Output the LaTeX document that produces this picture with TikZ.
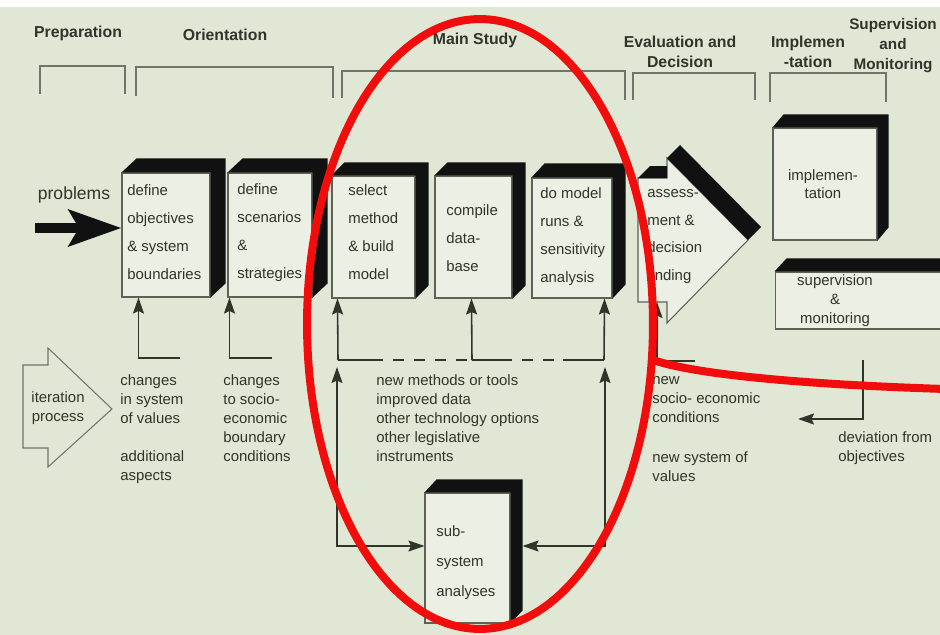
\documentclass[tikz,border=0pt]{standalone}
\usepackage{fontspec}
\setmainfont{Liberation Sans}
\usetikzlibrary{arrows.meta,calc}
\definecolor{paper}{HTML}{E1E7D5}
\definecolor{face}{HTML}{ECEFE4}
\definecolor{ink}{HTML}{2F3529}
\definecolor{edge}{HTML}{5C6255}
\definecolor{bracket}{HTML}{70756A}
\definecolor{band}{HTML}{111111}
\definecolor{redmark}{HTML}{F20D0D}
\newcommand\cubeband[3]{\fill[band] (#1.north west) -- ++(#2,-#3) -- ($(#1.north east)+(#2,-#3)$) -- ($(#1.south east)+(#2,-#3)$) -- (#1.south east) -- (#1.north east) -- cycle;}
\begin{document}
\begin{tikzpicture}[x=0.02cm,y=-0.02cm,
  cubeface/.style={draw=edge, line width=0.6pt, fill=face, inner sep=0pt, rectangle},
  boxtext/.style={align=left, inner sep=0pt, text=ink, font=\fontsize{8.5}{15.9}\selectfont, anchor=west},
  subtext/.style={align=left, inner sep=0pt, text=ink, font=\fontsize{8.5}{17}\selectfont, anchor=west},
  ctext/.style={align=center, inner sep=0pt, text=ink, font=\fontsize{8.5}{10.5}\selectfont},
  note/.style={align=left, inner sep=0pt, text=ink, font=\fontsize{8.5}{10.8}\selectfont, anchor=west},
  head/.style={align=center, inner sep=0pt, text=ink, font=\bfseries\fontsize{9}{11.4}\selectfont},
  brk/.style={draw=bracket, line width=0.6pt},
  outl/.style={draw=bracket, line width=0.6pt},
  ln/.style={draw=ink, line width=0.9pt},
  arr/.style={ln, -{Stealth[length=0.32cm,width=0.22cm,inset=0.05cm]}},
  arrtwo/.style={ln, {Stealth[length=0.32cm,width=0.22cm,inset=0.05cm]}-{Stealth[length=0.32cm,width=0.22cm,inset=0.05cm]}},
  dsh/.style={ln, dash pattern=on 0.22cm off 0.2cm, dash phase=0.22cm},
  redline/.style={draw=redmark, line width=0.16cm}]
\useasboundingbox (0,0) rectangle (940,635);
\clip (0,0) rectangle (940,635);
\fill[paper] (0,0) rectangle (940,635);
\fill[white] (0,0) rectangle (940,7);

% phase headers
\node[head] (hprep) at (78,33) {Preparation};
\node[head] (horient) at (225,35) {Orientation};
\node[head] (hmain) at (475,40) {Main Study};
\node[head] (heval) at (680,52) {Evaluation and\\Decision};
\node[head] (himpl) at (808,52) {Implemen\\-tation};
\node[head, font=\bfseries\fontsize{8.7}{11.4}\selectfont] (hsup) at (893,46) {Supervision\\and\\Monitoring};

% brackets
\draw[brk] (40,94) |- (125,66) -- (125,94);
\draw[brk] (136,96) |- (333,67) -- (333,98);
\draw[brk] (342,98) |- (625,71) -- (625,100);
\draw[brk] (633,100) |- (755,73) -- (755,100);
\draw[brk] (770,102) |- (886,73) -- (886,102);

% boxes
\node[cubeface, minimum width=1.76cm, minimum height=2.48cm] (b1) at (166,235) {};
\cubeband{b1}{15}{14}
\node[cubeface, minimum width=1.68cm, minimum height=2.48cm] (b2) at (270,235) {};
\cubeband{b2}{15}{14}
\node[cubeface, minimum width=1.66cm, minimum height=2.44cm] (b3) at (373.5,237) {};
\cubeband{b3}{13}{13}
\node[cubeface, minimum width=1.54cm, minimum height=2.44cm] (b4) at (473.5,237) {};
\cubeband{b4}{13}{13}
\node[cubeface, minimum width=1.60cm, minimum height=2.40cm] (b5) at (572,238) {};
\cubeband{b5}{13}{14}
\node[cubeface, minimum width=2.08cm, minimum height=2.24cm] (impl) at (825,184) {};
\cubeband{impl}{11}{13}
\node[cubeface, minimum width=3.7cm, minimum height=1.14cm] (sup) at (867.5,300.5) {};
\cubeband{sup}{12}{13}
\node[cubeface, minimum width=1.7cm, minimum height=2.6cm] (sub) at (467.5,558) {};
\cubeband{sub}{12}{13}

% assessment arrow shape
\filldraw[fill=face, draw=edge, line width=0.6pt] (638,178) -- (667,178) -- (667,158) -- (748,240) -- (667,323) -- (667,302) -- (638,302) -- cycle;
\fill[band] (638,178) -- (650,166) -- (667,166) -- (667,178) -- cycle;
\fill[band] (667,158) -- (680,145) -- (761,227) -- (748,240) -- cycle;

% iteration arrow shape
\draw[outl] (23,365) -- (48,365) -- (48,348) -- (112,409) -- (48,467) -- (48,448) -- (23,448) -- cycle;
\node[ctext] (iter) at (58,408) {iteration\\process};

% box texts
\node[boxtext] (t1) at (127,232.5) {define\\objectives\\\& system\\boundaries};
\node[boxtext] (t2) at (237,232.5) {define\\scenarios\\\&\\strategies};
\node[boxtext] (t3) at (348,232.5) {select\\method\\\& build\\model};
\node[boxtext] (t4) at (446,238) {compile\\data-\\base};
\node[boxtext] (t5) at (540,236.5) {do model\\runs \&\\sensitivity\\analysis};
\node[boxtext] (tas) at (647,236.5) {assess-\\ment \&\\decision\\finding};
\node[ctext] (timpl) at (823,184) {implemen-\\tation};
\node[ctext, font=\fontsize{8.5}{10.8}\selectfont] (tsup) at (835,301) {supervision\\\&\\monitoring};
\node[subtext] (tsub) at (436,563) {sub-\\system\\analyses};

% problems arrow
\node[inner sep=0pt, text=ink, font=\fontsize{10}{12}\selectfont] (prob) at (74,195) {problems};
\coordinate (pstart) at (35,228);
\draw[line width=0.2cm, draw=band, -{Stealth[length=1.05cm,width=0.72cm,inset=0.2cm]}] (pstart) -- ($(b1.west)+(0,-7)$);

% feedback arrows to boxes
\coordinate (c1) at (180,358);
\coordinate (c2) at (272,358);
\draw[arr] (c1) -| ($(b1.south west)+(17,0)$);
\draw[arr] (c2) -| ($(b2.south west)+(2,0)$);

\coordinate (f3) at (338,360);
\coordinate (f4) at (472,360);
\coordinate (f5) at (604,360);
\coordinate (d1) at (383,360);
\coordinate (d2) at (512,360);
\coordinate (d3) at (563,360);
\draw[arr] (f3) -- ($(b3.south west)+(6,0)$);
\draw[arr] (f4) -- ($(b4.south west)+(37,0)$);
\draw[arr] (f5) -- ($(b5.south east)+(-8,0)$);
\draw[ln] (f3) -- (d1);
\draw[dsh] (d1) -- (f4);
\draw[ln] (f4) -- (d2);
\draw[dsh] (d2) -- (d3);
\draw[ln] (d3) -- (f5);

% sub-system connections
\coordinate (u3) at (337,367);
\coordinate (u5) at (605,367);
\draw[arrtwo] (u3) |- ($(sub.west)+(0,-12)$);
\draw[arrtwo] (u5) |- ($(sub.east)+(12,-12)$);

% evaluation feedback
\coordinate (ae) at (695,361);
\coordinate (ab) at (657,302);
\draw[arr] (ae) -| (ab);

% deviation
\coordinate (dv1) at (863,360);
\coordinate (dv2) at (798,419);
\draw[arr] (dv1) |- (dv2);

% notes
\node[note] (n1) at (120,399) {changes\\in system\\of values};
\node[note] (n2) at (120,467) {additional\\aspects};
\node[note] (n3) at (223,418.5) {changes\\to socio-\\economic\\boundary\\conditions};
\node[note] (n4) at (376,418.5) {new methods or tools\\improved data\\other technology options\\other legislative\\instruments};
\node[note] (n5) at (652,400) {new\\socio- economic\\conditions};
\node[note] (n6) at (652,466.5) {new system of\\values};
\node[note] (n7) at (838,448.5) {deviation from\\objectives};

% red highlight
\coordinate (rc) at (480,324);
\draw[redline] (rc) ellipse [x radius=3.46cm, y radius=6.1cm];
\coordinate (rt0) at (653,360);
\coordinate (rt1) at (945,389);
\draw[redline] (rt0) .. controls (700,376) and (820,385) .. (rt1);
\end{tikzpicture}
\end{document}
